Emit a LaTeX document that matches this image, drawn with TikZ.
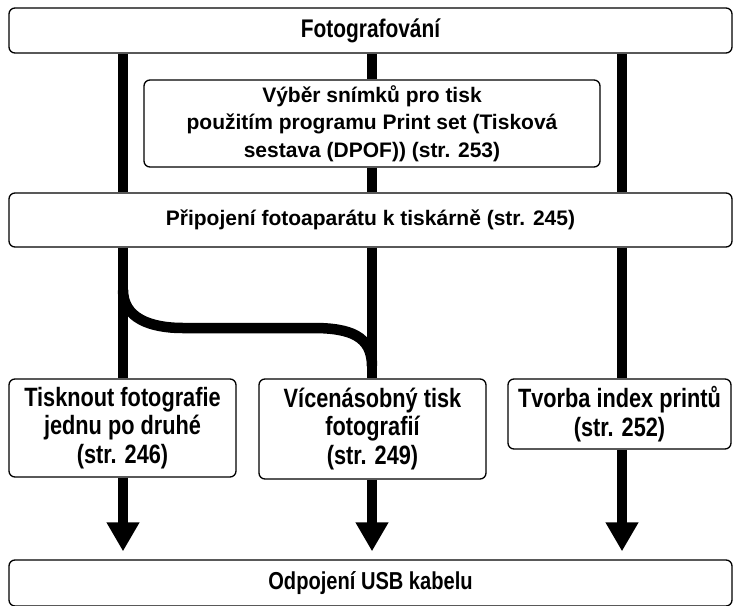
\documentclass[tikz,border=0pt]{standalone}
\usepackage{fontspec}
\setmainfont{Liberation Sans}
\newfontfamily\narrowfont[FakeStretch=0.82]{Liberation Sans}
\usetikzlibrary{arrows.meta}
\begin{document}
\begin{tikzpicture}[x=1pt,y=-1pt,
  box/.style={draw=black, line width=1.3pt, rounded corners=6pt, fill=white,
    rectangle, inner sep=0pt, align=center},
  widetext/.style={font=\fontsize{21}{27.5}\selectfont\bfseries},
  narrowtext/.style={font=\narrowfont\fontsize{26.5}{28.5}\selectfont\bfseries},
  titletext/.style={font=\narrowfont\fontsize{25.5}{28}\selectfont\bfseries},
  endtext/.style={font=\narrowfont\fontsize{24.5}{28}\selectfont\bfseries},
  flow/.style={line width=10.5pt, draw=black},
  flowarrow/.style={flow, -{Triangle[width=31pt,length=29pt]}, shorten >=8pt}]
\useasboundingbox (0,0) rectangle (733,605);
\clip (0,0) rectangle (733,605);

% column positions of the three flow lines
\coordinate (colL) at (123,0);
\coordinate (colM) at (372,0);
\coordinate (colR) at (622,0);

% boxes
\node[box, titletext, minimum width=723pt, minimum height=45pt] (shoot) at (370.5,30.5) {Fotografování};
\node[box, widetext, minimum width=456pt, minimum height=87pt] (select) at (372,123.5)
  {Výběr snímků pro tisk\\použitím programu Print set (Tisková\\sestava (DPOF)) (str. 253)};
\node[box, widetext, minimum width=723pt, minimum height=54pt] (connect) at (370.5,220)
  {Připojení fotoaparátu k tiskárně (str. 245)};
\node[box, narrowtext, minimum width=227pt, minimum height=98pt] (single) at (122.5,428)
  {Tisknout fotografie\\jednu po druhé\\(str. 246)};
\node[box, narrowtext, minimum width=227pt, minimum height=100pt] (multi) at (372.5,429)
  {Vícenásobný tisk\\fotografií\\(str. 249)};
\node[box, narrowtext, minimum width=223pt, minimum height=70pt] (index) at (619.5,414)
  {Tvorba index printů\\(str. 252)};
\node[box, endtext, minimum width=723pt, minimum height=46pt] (unplug) at (370.5,583)
  {Odpojení USB kabelu};

% flow from shooting to connecting
\draw[flow] (shoot.south -| colL) -- (connect.north -| colL);
\draw[flow] (shoot.south -| colM) -- (select.north -| colM);
\draw[flow] (select.south -| colM) -- (connect.north -| colM);
\draw[flow] (shoot.south -| colR) -- (connect.north -| colR);

% flow from connecting to the print modes
\draw[flow] (connect.south -| colL) -- (single.north -| colL);
\draw[flow] (connect.south -| colM) -- (multi.north -| colM);
\draw[flow] (connect.south -| colR) -- (index.north -| colR);

% branch from the left line over to the middle one
\coordinate (split) at (123,290);
\coordinate (merge) at (372,366);
\draw[flow] (split) .. controls (123,318) and (150,328) .. (183,328)
  -- (313,328) .. controls (350,328) and (372,336) .. (merge);

% arrows down to unplugging
\draw[flowarrow] (single.south -| colL) -- (unplug.north -| colL);
\draw[flowarrow] (multi.south -| colM) -- (unplug.north -| colM);
\draw[flowarrow] (index.south -| colR) -- (unplug.north -| colR);
\end{tikzpicture}
\end{document}
